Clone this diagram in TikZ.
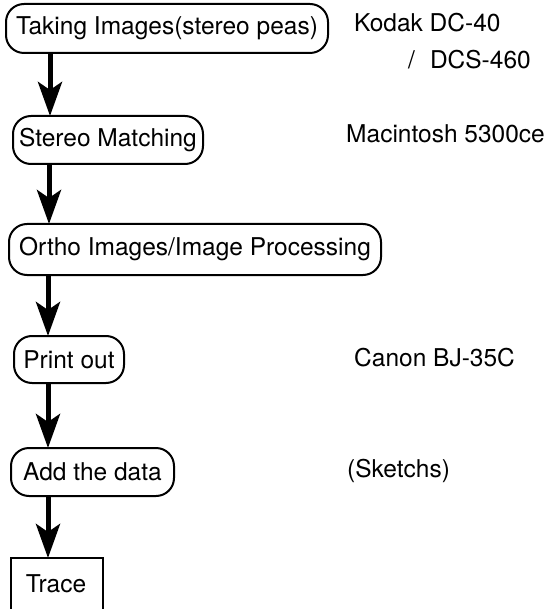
\documentclass[tikz,border=0pt]{standalone}
\usepackage{fontspec}
\setmainfont{TeX Gyre Heros}
\usetikzlibrary{arrows.meta}
\begin{document}
\begin{tikzpicture}[x=1pt,y=-1pt,
  every node/.style={font=\fontsize{24.5}{28}\selectfont, inner sep=0pt},
  procbox/.style={draw, line width=2pt, rounded corners=18pt, anchor=north west, align=center},
  endbox/.style={draw, line width=2pt, anchor=north west, align=center},
  flowarrow/.style={line width=5pt, -{Stealth[length=34pt,width=24pt,inset=8pt]}, shorten >=-1pt},
  sidelabel/.style={anchor=base west}]
\useasboundingbox (0,0) rectangle (548,609);
\clip (0,0) rectangle (548,609);
\node[procbox, minimum width=322pt, minimum height=49pt] (b1) at (5,3) {Taking Images(stereo peas)};
\node[procbox, minimum width=190pt, minimum height=48pt] (b2) at (12,115) {Stereo Matching};
\node[procbox, minimum width=372pt, minimum height=51pt] (b3) at (8,223) {Ortho Images/Image Processing};
\node[procbox, minimum width=110pt, minimum height=47pt] (b4) at (13,335) {Print out};
\node[procbox, minimum width=163pt, minimum height=48pt] (b5) at (10,447) {Add the data};
\node[endbox, minimum width=92pt, minimum height=70pt] (b6) at (10,557) {};
\node[anchor=base] (t6) at (56,592) {Trace};
\coordinate (c1) at (50,0);
\coordinate (c2) at (49,0);
\coordinate (c3) at (48,0);
\draw[flowarrow] (b1.south -| c1) -- (b2.north -| c1);
\draw[flowarrow] (b2.south -| c2) -- (b3.north -| c2);
\draw[flowarrow] (b3.south -| c3) -- (b4.north -| c3);
\draw[flowarrow] (b4.south -| c3) -- (b5.north -| c3);
\draw[flowarrow] (b5.south -| c3) -- (b6.north -| c3);
\node[sidelabel] (l1) at (354,32) {Kodak DC-40};
\node[sidelabel] (l2) at (408,69) {/\hspace{15pt}DCS-460};
\node[anchor=base east] (l3) at (545,143) {Macintosh 5300ce};
\node[sidelabel] (l4) at (354,366) {Canon BJ-35C};
\node[sidelabel] (l5) at (347,477) {(Sketchs)};
\end{tikzpicture}
\end{document}
